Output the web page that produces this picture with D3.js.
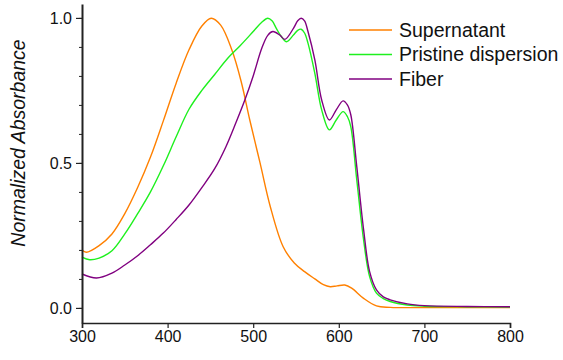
<!DOCTYPE html>
<html>
<head>
<meta charset="utf-8">
<script src="https://cdn.jsdelivr.net/npm/d3@7"></script>
<style>
  body { margin: 0; background: #fff; }
  svg { display: block; font-family: "Liberation Sans", Arial, sans-serif; }
  .axis path, .axis line { stroke: #222; }
  .axis text { fill: #111; font-size: 16px; }
</style>
</head>
<body>
<svg id="chart" width="563" height="360"></svg>
<script>
// wavelengths (nm) and normalized absorbance
var superWl  = [300, 305, 320, 335, 350, 365, 380, 395, 410, 425, 440, 451, 462, 475, 486, 496, 508, 520, 535, 548, 560, 572, 582, 590, 598, 607, 615, 629, 644, 660, 700, 750, 800];
var superAbs = [0.200, 0.192, 0.215, 0.255, 0.325, 0.415, 0.520, 0.645, 0.775, 0.890, 0.972, 0.999, 0.975, 0.890, 0.780, 0.648, 0.500, 0.349, 0.211, 0.155, 0.125, 0.100, 0.080, 0.073, 0.076, 0.079, 0.068, 0.033, 0.007, 0.002, 0.001, 0.001, 0.001];

var pristWl  = [300, 309, 320, 335, 350, 365, 380, 395, 410, 425, 440, 455, 470, 485, 500, 510, 517, 522, 527, 533, 539, 547, 552, 556, 560, 564, 572, 580, 589, 597, 605, 610, 614, 621, 629, 636, 644, 652, 660, 680, 700, 750, 800];
var pristAbs = [0.175, 0.166, 0.172, 0.197, 0.255, 0.325, 0.400, 0.490, 0.590, 0.685, 0.750, 0.805, 0.860, 0.905, 0.953, 0.985, 0.999, 0.990, 0.964, 0.935, 0.918, 0.941, 0.957, 0.961, 0.948, 0.913, 0.809, 0.683, 0.614, 0.648, 0.677, 0.660, 0.625, 0.441, 0.234, 0.108, 0.051, 0.032, 0.022, 0.010, 0.006, 0.004, 0.003];

var fiberWl  = [300, 317, 335, 350, 365, 380, 395, 410, 425, 440, 455, 468, 480, 490, 500, 510, 517, 523, 531, 537, 547, 552, 556, 560, 564, 572, 580, 589, 597, 605, 610, 614, 621, 629, 636, 644, 652, 660, 680, 700, 750, 800];
var fiberAbs = [0.117, 0.103, 0.120, 0.148, 0.180, 0.218, 0.258, 0.305, 0.355, 0.415, 0.480, 0.555, 0.640, 0.715, 0.800, 0.895, 0.940, 0.953, 0.941, 0.926, 0.964, 0.990, 0.999, 0.990, 0.953, 0.855, 0.717, 0.648, 0.683, 0.714, 0.700, 0.666, 0.487, 0.269, 0.125, 0.062, 0.038, 0.028, 0.014, 0.008, 0.005, 0.004];

var seriesNames  = ["Supernatant", "Pristine dispersion", "Fiber"];
var seriesColors = ["#ff8000", "#1ef01e", "#800080"];

var xTicks = [300, 400, 500, 600, 700, 800];
var yMajor = [0, 0.5, 1.0];

var svg = d3.select("#chart");
var x = d3.scaleLinear().domain([300, 800]).range([82, 510]);
var y = d3.scaleLinear().domain([-0.052, 1.048]).range([323, 4]);

var series = [
  {name: seriesNames[0], color: seriesColors[0], wl: superWl, abs: superAbs},
  {name: seriesNames[1], color: seriesColors[1], wl: pristWl, abs: pristAbs},
  {name: seriesNames[2], color: seriesColors[2], wl: fiberWl, abs: fiberAbs}
];

var line = d3.line()
  .x(function(d) { return x(d[0]); })
  .y(function(d) { return y(d[1]); })
  .curve(d3.curveCatmullRom.alpha(0.5));

svg.append("g").selectAll("path")
  .data(series)
  .enter().append("path")
    .attr("fill", "none")
    .attr("stroke", function(d) { return d.color; })
    .attr("stroke-width", 1.4)
    .attr("d", function(d) { return line(d.wl.map(function(w, i) { return [w, d.abs[i]]; })); });

// x axis
var xAxis = svg.append("g")
  .attr("class", "axis")
  .attr("transform", "translate(0,323)")
  .call(d3.axisBottom(x).tickValues(xTicks).tickSize(5).tickPadding(3).tickFormat(d3.format("d")));
xAxis.select(".domain").attr("stroke-width", 1.6);
xAxis.selectAll(".tick line").attr("stroke-width", 1.2);

// y axis, minor ticks every 0.1
var yMinor = d3.range(0, 11).map(function(i) { return i / 10; });
svg.append("g")
  .attr("class", "axis")
  .attr("transform", "translate(82,0)")
  .call(d3.axisLeft(y).tickValues(yMinor).tickSize(3).tickFormat(""))
  .select(".domain").remove();
var yAxis = svg.append("g")
  .attr("class", "axis")
  .attr("transform", "translate(82,0)")
  .call(d3.axisLeft(y).tickValues(yMajor).tickSize(6).tickSizeOuter(0).tickPadding(4).tickFormat(d3.format(".1f")));
yAxis.select(".domain").attr("stroke-width", 2).attr("stroke", "#444");
yAxis.selectAll(".tick line").attr("stroke-width", 1.2);

svg.append("text")
  .attr("transform", "translate(25,143) rotate(-90)")
  .attr("text-anchor", "middle")
  .style("font-size", "19.5px")
  .style("font-style", "italic")
  .style("fill", "#111")
  .text("Normalized Absorbance");

// legend
var legend = svg.append("g").selectAll("g")
  .data(series)
  .enter().append("g")
    .attr("transform", function(d, i) { return "translate(349," + (30 + i * 24.5) + ")"; });
legend.append("line")
  .attr("x1", 0).attr("x2", 43)
  .attr("stroke", function(d) { return d.color; })
  .attr("stroke-width", 1.4);
legend.append("text")
  .attr("x", 50)
  .attr("dy", "0.35em")
  .style("font-size", "19.5px")
  .style("fill", "#111")
  .text(function(d) { return d.name; });
</script>
</body>
</html>
